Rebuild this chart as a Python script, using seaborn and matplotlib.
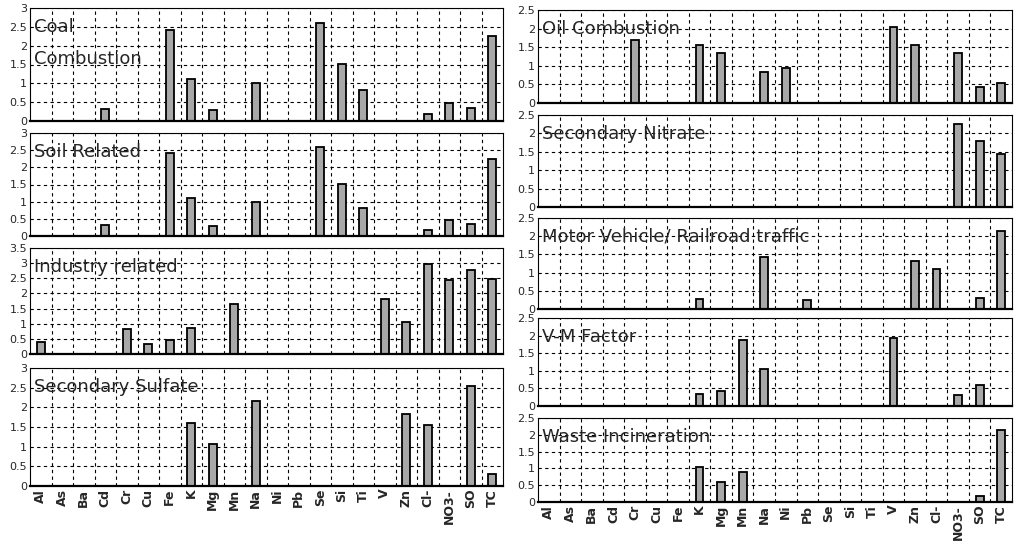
import numpy as np
import pandas as pd
import matplotlib.pyplot as plt
import seaborn as sns

# x categories (species)
elements = ['Al', 'As', 'Ba', 'Cd', 'Cr', 'Cu', 'Fe', 'K', 'Mg', 'Mn', 'Na',
            'Ni', 'Pb', 'Se', 'Si', 'Ti', 'V', 'Zn', 'Cl-', 'NO3-', 'SO', 'TC']

# source profiles
coal = [0, 0, 0, 0.33, 0, 0, 2.42, 1.12, 0.28, 0, 1.0,
        0, 0, 2.6, 1.52, 0.83, 0, 0, 0.18, 0.47, 0.34, 2.25]
soil = [0, 0, 0, 0.33, 0, 0, 2.42, 1.12, 0.28, 0, 1.0,
        0, 0, 2.6, 1.52, 0.83, 0, 0, 0.18, 0.47, 0.34, 2.25]
industry = [0.38, 0, 0, 0, 0.82, 0.33, 0.46, 0.85, 0, 1.66, 0,
            0, 0, 0, 0, 0, 1.8, 1.07, 2.96, 2.44, 2.77, 2.49]
sulfate = [0, 0, 0, 0, 0, 0, 0, 1.6, 1.06, 0, 2.17,
           0, 0, 0, 0, 0, 0, 1.83, 1.55, 0, 2.54, 0.3]
oil = [0, 0, 0, 0, 1.7, 0, 0, 1.57, 1.34, 0, 0.83,
       0.94, 0, 0, 0, 0, 2.04, 1.57, 0, 1.35, 0.43, 0.54]
nitrate = [0, 0, 0, 0, 0, 0, 0, 0, 0, 0, 0,
           0, 0, 0, 0, 0, 0, 0, 0, 2.25, 1.8, 1.43]
motor = [0, 0, 0, 0, 0, 0, 0, 0.27, 0, 0, 1.42,
         0, 0.24, 0, 0, 0, 0, 1.33, 1.1, 0, 0.3, 2.15]
vm = [0, 0, 0, 0, 0, 0, 0, 0.35, 0.42, 1.88, 1.06,
      0, 0, 0, 0, 0, 1.93, 0, 0, 0.3, 0.6, 0]
waste = [0, 0, 0, 0, 0, 0, 0, 1.05, 0.6, 0.9, 0,
         0, 0, 0, 0, 0, 0, 0, 0, 0, 0.18, 2.15]

sns.set_style('white')
plt.rcParams['font.family'] = ['DejaVu Sans']

W, H = 1015, 545
fig = plt.figure(figsize=(W / 100, H / 100), dpi=100)


def make_ax(left, right, top, bottom):
    return fig.add_axes([left / W, 1 - bottom / H, (right - left) / W, (bottom - top) / H])


def panel(ax, vals, title, ymax, bottom_labels=False, title_dy=-19):
    df = pd.DataFrame({'element': elements, 'value': vals})
    sns.barplot(data=df, x='element', y='value', order=elements, ax=ax,
                color='#a8a8a8', saturation=1, edgecolor='black',
                linewidth=1.3, width=0.36)
    ax.set_xlim(-0.5, len(elements) - 0.5)
    ax.set_ylim(0, ymax)
    ticks = np.arange(0, ymax + 0.01, 0.5)
    ax.set_yticks(ticks)
    ax.set_yticklabels(['%g' % t for t in ticks], fontsize=8)
    ax.set_xticks(np.arange(0.5, len(elements) - 0.5, 1), minor=True)
    ax.grid(which='minor', axis='x', color='black', linestyle=(0, (3, 3)), linewidth=0.8)
    ax.grid(which='major', axis='y', color='black', linestyle=(0, (3, 3)), linewidth=0.8)
    ax.set_axisbelow(True)
    ax.tick_params(which='both', length=0, pad=2)
    ax.set_xlabel('')
    ax.set_ylabel('')
    if bottom_labels:
        ax.set_xticks(range(len(elements)))
        ax.set_xticklabels(elements, rotation=90, fontsize=9, fontweight='bold')
    else:
        ax.set_xticklabels([])
    for s in ax.spines.values():
        s.set_color('black')
        s.set_linewidth(0.8)
    ax.spines['bottom'].set_linewidth(1.6)
    ax.annotate(title, xy=(0, 1), xycoords='axes fraction', xytext=(4, title_dy),
                textcoords='offset pixels', ha='left', va='center', fontsize=13,
                linespacing=2.0)


# left column
lx0, lx1 = 30, 503
panel(make_ax(lx0, lx1, 8, 121), coal, 'Coal\nCombustion', 3, title_dy=-35)
panel(make_ax(lx0, lx1, 133, 236), soil, 'Soil Related', 3)
panel(make_ax(lx0, lx1, 248, 354), industry, 'Industry related', 3.5)
panel(make_ax(lx0, lx1, 368, 486), sulfate, 'Secondary Sulfate', 3, bottom_labels=True)

# right column
rx0, rx1 = 538, 1012
panel(make_ax(rx0, rx1, 10, 103), oil, 'Oil Combustion', 2.5)
panel(make_ax(rx0, rx1, 115, 207), nitrate, 'Secondary Nitrate', 2.5)
panel(make_ax(rx0, rx1, 218, 309), motor, 'Motor Vehicle/ Railroad traffic', 2.5)
panel(make_ax(rx0, rx1, 318, 406), vm, 'V-M Factor', 2.5)
panel(make_ax(rx0, rx1, 418, 502), waste, 'Waste Incineration', 2.5, bottom_labels=True)

fig.savefig('out.png', dpi=100)
